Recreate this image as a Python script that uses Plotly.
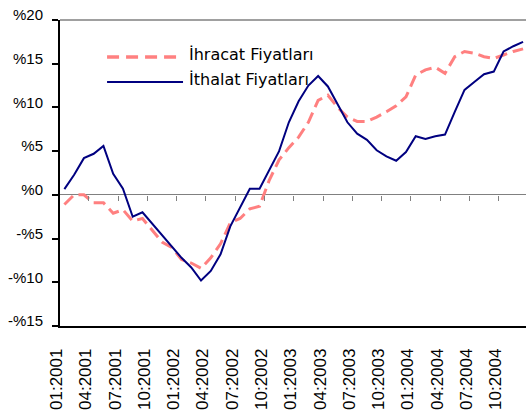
import plotly.graph_objects as go

# monthly change, 01:2001 - 12:2004
ihracat = [-1.1, 0.0, 0.0, -0.9, -0.9, -2.1, -1.7, -3.0, -2.7, -4.1, -5.4, -6.0,
           -7.4, -7.8, -8.4, -7.2, -5.6, -3.2, -2.7, -1.6, -1.3, 1.7, 4.0, 5.4,
           6.6, 8.3, 10.8, 11.4, 10.0, 8.9, 8.4, 8.4, 8.9, 9.5, 10.2, 11.2,
           13.7, 14.3, 14.6, 13.9, 15.8, 16.4, 16.2, 15.8, 15.6, 16.0, 16.4, 16.7]
ithalat = [0.65, 2.3, 4.2, 4.7, 5.6, 2.4, 0.7, -2.5, -2.0, -3.3, -4.6, -5.8,
           -7.2, -8.3, -9.8, -8.7, -6.8, -3.6, -1.5, 0.7, 0.7, 2.8, 5.0, 8.3,
           10.7, 12.5, 13.6, 12.4, 10.4, 8.3, 7.0, 6.3, 5.1, 4.4, 3.9, 4.9,
           6.7, 6.4, 6.7, 6.9, 9.5, 12.0, 12.9, 13.8, 14.1, 16.4, 17.0, 17.5]
tick_labels = ["01:2001", "04:2001", "07:2001", "10:2001",
               "01:2002", "04:2002", "07:2002", "10:2002",
               "01:2003", "04:2003", "07:2003", "10:2003",
               "01:2004", "04:2004", "07:2004", "10:2004"]
y_ticks = [-15, -10, -5, 0, 5, 10, 15, 20]
y_labels = ["-%15", "-%10", "-%5", "%0", "%5", "%10", "%15", "%20"]

months = list(range(len(ihracat)))
x_range = [-0.45, 47.3]
RED = "#ff8080"
BLUE = "#000080"

fig = go.Figure()

fig.add_trace(go.Scatter(x=months, y=ihracat, mode="lines", name="İhracat Fiyatları",
                         line=dict(color=RED, width=3, dash="12px,6px")))
fig.add_trace(go.Scatter(x=months, y=ithalat, mode="lines", name="İthalat Fiyatları",
                         xaxis="x2", line=dict(color=BLUE, width=2)))

fig.update_layout(
    width=526, height=412,
    margin=dict(l=60, r=0, t=20, b=86),
    paper_bgcolor="white", plot_bgcolor="white",
    showlegend=False,
    xaxis=dict(range=x_range, showgrid=False, zeroline=False, automargin=False,
               showline=True, linecolor="black", linewidth=1.5,
               tickmode="array", tickvals=[m - 0.4 for m in months[::3]],
               ticktext=tick_labels, tickangle=-90, ticks="",
               ticklabelstandoff=14, ticklabelshift=-4,
               tickfont=dict(family="Liberation Sans", size=17, color="black")),
    xaxis2=dict(range=x_range, overlaying="x", anchor="free", position=15 / 35,
                showgrid=False, zeroline=False, showline=False, automargin=False,
                showticklabels=False, ticks="outside", ticklen=5,
                tickcolor="#808080", tickwidth=1,
                tickmode="array", tickvals=[m + 2.5 for m in months[:45:3]]),
    yaxis=dict(range=[-15, 20], showgrid=False, automargin=False,
               zeroline=True, zerolinecolor="#808080", zerolinewidth=1,
               showline=True, linecolor="black", linewidth=2,
               ticks="outside", ticklen=6, tickcolor="black", tickwidth=1.5,
               tickmode="array", tickvals=y_ticks, ticktext=y_labels,
               ticklabelstandoff=6, ticklabelshift=-5,
               tickfont=dict(family="Liberation Sans", size=15, color="black")),
)

# top border of the plot area
fig.add_shape(type="line", xref="paper", yref="paper", x0=0, x1=1, y0=1, y1=1,
              line=dict(color="#808080", width=1.5))

# legend drawn by hand (long line samples)
legend_rows = [(0.879, RED, 3.5, "12px,7px", "İhracat Fiyatları"),
               (0.797, BLUE, 2, "solid", "İthalat Fiyatları")]
for ly, col, w, dash, label in legend_rows:
    fig.add_shape(type="line", xref="paper", yref="paper", x0=0.101, x1=0.264,
                  y0=ly, y1=ly, line=dict(color=col, width=w, dash=dash))
    fig.add_annotation(xref="paper", yref="paper", x=0.273, y=ly + 0.008,
                       xanchor="left", yanchor="middle", showarrow=False,
                       text=label, font=dict(family="DejaVu Sans", size=16, color="black"))

# page body margin would push the 526x412 figure off the window
fig.write_html("out.html", config={"displayModeBar": False},
               post_script="document.body.style.margin='0';")
